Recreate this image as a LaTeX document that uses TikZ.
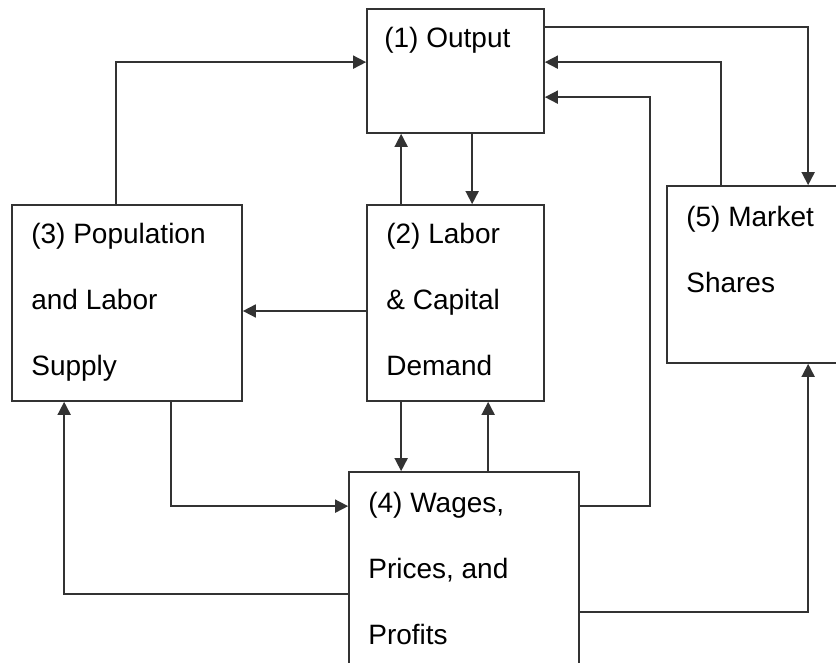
\documentclass[tikz,border=0pt]{standalone}
\usepackage{fontspec}
\setmainfont{Liberation Sans}
\usetikzlibrary{
  arrows.meta,
  calc,
  positioning,
}
\tikzset{
  >={Triangle[length=13pt,width=13pt]},
  box/.style={draw=black!80, line width=1.7pt, inner sep=0pt},
  link/.style={->, draw=black!80, line width=1.7pt},
  lbl/.style={align=left, inner sep=0pt, font=\fontsize{28}{66}\selectfont},
}

\begin{document}
\begin{tikzpicture}[x=1pt, y=1pt]
      \useasboundingbox (0,0) rectangle (836,663);
      \clip (0,0) rectangle (836,663);
      \node[box, minimum width=177pt, minimum height=124pt] (out) at (455.5,592) {};
      \node[box, minimum width=177pt, minimum height=196pt] (lab) at (455.5,360) {};
      \node[box, minimum width=230pt, minimum height=196pt] (pop) at (127,360) {};
      \node[box, minimum width=183pt, minimum height=177pt] (mkt) at (758.5,388.5) {};
      \node[box, minimum width=230pt, minimum height=203pt] (wag) at (464,89.5) {};
      \node[lbl, below right=19pt and 18pt of out.north west] (outT) {(1) Output};
      \node[lbl, below right=19pt and 20pt of lab.north west] (labT) {(2) Labor\\\& Capital\\Demand};
      \node[lbl, below right=19pt and 20pt of pop.north west] (popT) {(3) Population\\and Labor\\Supply};
      \node[lbl, below right=21pt and 20pt of wag.north west] (wagT) {(4) Wages,\\Prices, and\\Profits};
      \node[lbl, below right=21pt and 20pt of mkt.north west] (mktT) {(5) Market\\Shares};
      \draw[link] ([yshift=-19pt]out.north east) -| ([xshift=142pt]mkt.north west);
      \draw[link] ([xshift=55pt]mkt.north west) |- ([yshift=-54pt]out.north east);
      \draw[link] ([yshift=-35pt]wag.north east) -| ([xshift=105pt,yshift=-89pt]out.north east)
        -- ([yshift=-89pt]out.north east);
      \draw[link] ([yshift=-141pt]wag.north east) -| ([xshift=142pt]mkt.south west);
      \draw[link] ([xshift=105pt]pop.north west) |- ([yshift=-54pt]out.north west);
      \draw[link] ([xshift=35pt]lab.north west) -- ([xshift=35pt]out.south west);
      \draw[link] ([xshift=106pt]out.south west) -- ([xshift=106pt]lab.north west);
      \draw[link] ([yshift=-8pt]lab.west) -- ([yshift=-8pt]pop.east);
      \draw[link] ([xshift=35pt]lab.south west) -- ([xshift=53pt]wag.north west);
      \draw[link] ([xshift=140pt]wag.north west) -- ([xshift=122pt]lab.south west);
      \draw[link] ([xshift=160pt]pop.south west) |- ([yshift=-35pt]wag.north west);
      \draw[link] ([yshift=-123pt]wag.north west) -| ([xshift=53pt]pop.south west);
    \end{tikzpicture}
\end{document}
